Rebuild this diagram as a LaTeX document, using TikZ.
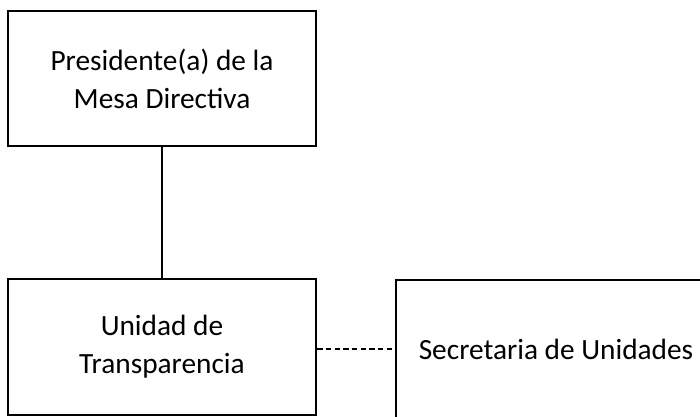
\documentclass[tikz,border=0pt]{standalone}
\usepackage{fontspec}
\setmainfont{Carlito}
\begin{document}
\begin{tikzpicture}[x=0.75pt,y=-0.75pt,
  boxstyle/.style={draw=black,line width=1.8pt,inner sep=0pt,align=center,
    font=\fontsize{22}{28.5}\selectfont},
  linkstyle/.style={draw=black,line width=0.8pt}]
\useasboundingbox (0,0) rectangle (700,417);
\clip (0,0) rectangle (700,417);
\node[boxstyle,minimum width=231pt,minimum height=101.25pt] (pres) at (162,78.5)
  {Presidente(a) de la\\Mesa Directiva};
\node[boxstyle,minimum width=231pt,minimum height=102pt] (ut) at (162,347)
  {Unidad de\\Transparencia};
\node[boxstyle,draw=none,minimum width=231pt,minimum height=102pt] (sec) at (556,349)
  {Secretaria de Unidades};
\coordinate (secw) at ([xshift=-3.75pt]sec.west);
\draw[line width=1.8pt] ([xshift=-3.75pt]sec.north west) rectangle ([xshift=-3.75pt,yshift=-20pt]sec.south east);
\draw[linkstyle] (pres.south) -- (ut.north);
\draw[linkstyle,line width=1pt,dash pattern=on 4pt off 2.5pt] (ut.east |- secw) -- (secw);
\end{tikzpicture}
\end{document}
